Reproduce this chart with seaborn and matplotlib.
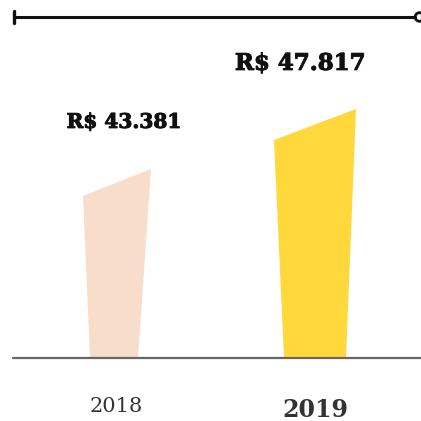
import matplotlib
matplotlib.use("Agg")
import matplotlib.pyplot as plt
import matplotlib.transforms as mtransforms
import matplotlib.patheffects as pe
import seaborn as sns
import pandas as pd
from matplotlib.patches import Polygon, Circle
from matplotlib.lines import Line2D

# Data
years = ["2018", "2019"]
values = [43381, 47817]
value_labels = ["R$ 43.381", "R$ 47.817"]

# Styling
bar_colors = ["#F7DDCA", "#FFD83B"]
W = H = 421
BASE = 29400              # value at the baseline
PX_PER_UNIT = 0.013526    # vertical pixels per value unit
PX_PER_CAT = 199          # horizontal pixels between categories
X0_PX = 116               # pixel position of the first category
BASE_PX = 63              # baseline height from the bottom, pixels

# trapezoid shape per bar (pixels relative to bar centre): top-left, top-right, bottom-left, bottom-right
shapes = [(-33, 35, -26, 22), (-41, 41, -31, 31)]
left_ratio = [0.857, 0.875]   # height of the top-left corner relative to the top-right corner
label_dx = [8, -15]           # horizontal label offsets, pixels
label_dy = [47, 45]           # label centre above bar top, pixels
label_size = [14.5, 16.5]
year_y = [406, 410]           # from top, pixels
year_weight = ["normal", "bold"]
year_size = [15, 17]

sns.set_theme(style="white")
plt.rcParams["font.family"] = ["DejaVu Serif"]

fig = plt.figure(figsize=(W / 100, H / 100), dpi=100)
fig.patch.set_facecolor("white")
ax = fig.add_axes([0, BASE_PX / H, 1, (H - BASE_PX) / H])
df = pd.DataFrame({"ano": years, "valor": values})
sns.barplot(data=df, x="ano", y="valor", hue="ano", palette=bar_colors,
            legend=False, ax=ax, width=0.3, saturation=1)
ax.set_ylim(BASE, BASE + (H - BASE_PX) / PX_PER_UNIT)
ax.set_xlim(-X0_PX / PX_PER_CAT, (W - X0_PX) / PX_PER_CAT)
ax.axis("off")

u = 1 / PX_PER_CAT
heavy = [pe.withStroke(linewidth=0.7, foreground="#111111")]
patches = list(ax.patches)
for i, p in enumerate(patches):
    cx = p.get_x() + p.get_width() / 2
    top = p.get_y() + p.get_height()
    tl, tr, bl, br = shapes[i]
    top_left = BASE + (top - BASE) * left_ratio[i]
    poly = Polygon([(cx + bl * u, BASE), (cx + tl * u, top_left), (cx + tr * u, top),
                    (cx + br * u, BASE)], closed=True, facecolor=p.get_facecolor(),
                   edgecolor="none", zorder=2)
    p.remove()
    ax.add_patch(poly)
    ax.annotate(value_labels[i], (cx, top), xytext=(label_dx[i] * 0.72, label_dy[i] * 0.72),
                textcoords="offset points", ha="center", va="center",
                fontsize=label_size[i], fontweight="bold", color="#111111",
                path_effects=heavy)
    trans = mtransforms.blended_transform_factory(ax.transData, fig.transFigure)
    ax.text(cx, 1 - year_y[i] / H, years[i], transform=trans, ha="center", va="center",
            fontsize=year_size[i], fontweight=year_weight[i], color="#333333",
            clip_on=False)

# baseline
fig.add_artist(Line2D([13 / W, 1], [BASE_PX / H] * 2, color="#666666", lw=1.6))

# top rule with end markers
ty = 1 - 17 / H
fig.add_artist(Line2D([14 / W, 415 / W], [ty, ty], color="#111111", lw=2.2))
fig.add_artist(Line2D([14 / W, 14 / W], [1 - 11 / H, 1 - 23 / H], color="#111111", lw=2.4))
fig.add_artist(Circle((419.5 / W, ty), 4.3 / W, facecolor="white", edgecolor="#111111",
                      lw=2, transform=fig.transFigure))

fig.savefig("out.png", dpi=100, facecolor="white")
